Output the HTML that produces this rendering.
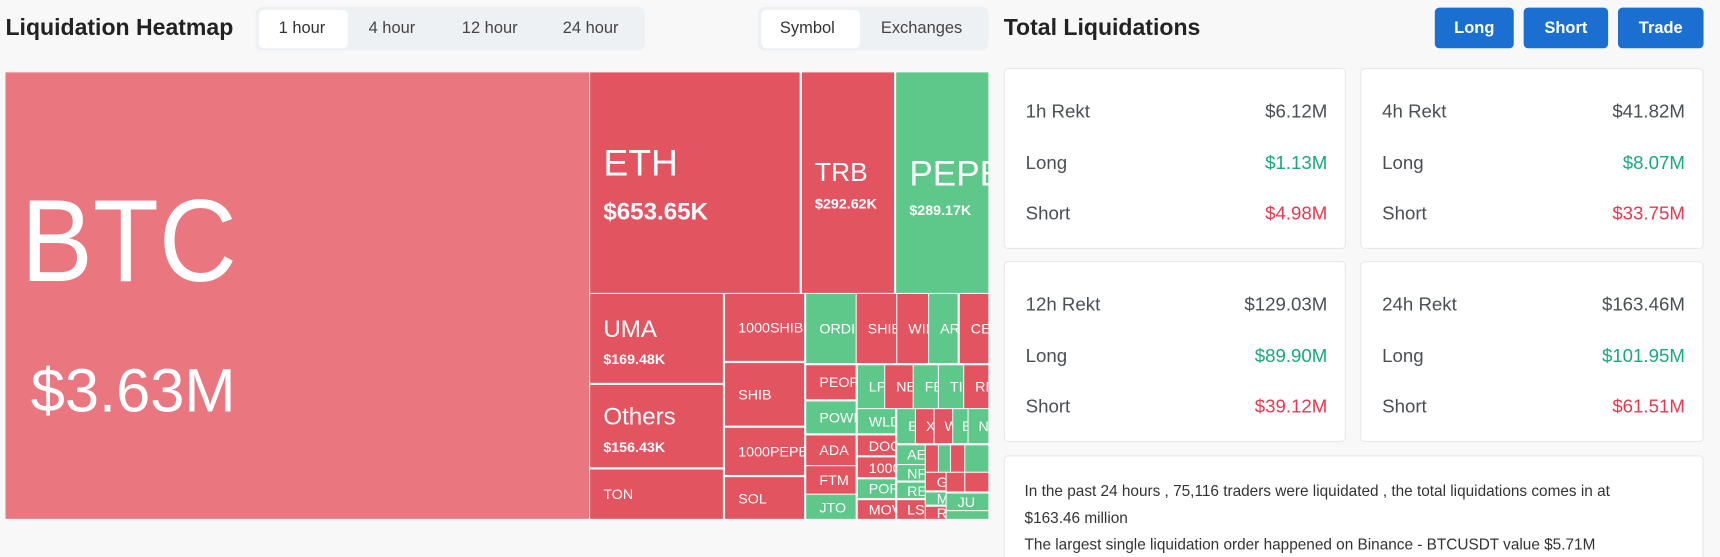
<!DOCTYPE html>
<html><head><meta charset="utf-8"><style>
html,body{margin:0;padding:0;background:#f8f8f8;}
#wrap{position:absolute;left:0;top:0;width:1568px;height:508px;transform:scale(1.09694);transform-origin:0 0;font-family:"Liberation Sans",sans-serif;overflow:hidden;}
.a{position:absolute;}
.t{position:absolute;overflow:hidden;color:#fff;box-sizing:border-box;}
.r{background:#e35461}.g{background:#5ec78a}
.s{display:flex;align-items:center;padding-left:12px;font-size:13px;white-space:nowrap}
.card{position:absolute;background:#fff;border:1px solid #e6e8ea;border-radius:4px;box-sizing:border-box;}
.row{position:absolute;left:19px;right:16px;font-size:17px;color:#4a4f55;}
.row span{position:absolute;right:0;top:0}
.gr{color:#16a97c}.rd{color:#e8384f}
.btn{position:absolute;top:7px;height:37px;background:#1a6fd1;color:#fff;border-radius:4px;font-weight:bold;font-size:15px;display:flex;align-items:center;justify-content:center;}
</style></head><body><div id="wrap">
<div class="a" style="left:5px;top:14px;font-size:21px;font-weight:bold;color:#222">Liquidation Heatmap</div>
<div class="a" style="left:233px;top:6px;width:355px;height:40px;background:#eef1f4;border-radius:6px"></div>
<div class="a" style="left:236px;top:9px;width:81px;height:35px;background:#fff;border-radius:5px"></div>
<div class="a" style="left:254px;top:17px;font-size:15px;color:#333">1 hour</div>
<div class="a" style="left:336px;top:17px;font-size:15px;color:#444">4 hour</div>
<div class="a" style="left:421px;top:17px;font-size:15px;color:#444">12 hour</div>
<div class="a" style="left:513px;top:17px;font-size:15px;color:#444">24 hour</div>
<div class="a" style="left:691px;top:6px;width:210px;height:40px;background:#eef1f4;border-radius:6px"></div>
<div class="a" style="left:694px;top:9px;width:90px;height:35px;background:#fff;border-radius:5px"></div>
<div class="a" style="left:711px;top:17px;font-size:15px;color:#333">Symbol</div>
<div class="a" style="left:803px;top:17px;font-size:15px;color:#444">Exchanges</div>
<div class="a" style="left:915px;top:14px;font-size:21px;font-weight:bold;color:#222">Total Liquidations</div>
<div class="btn" style="left:1308px;width:72px">Long</div>
<div class="btn" style="left:1389px;width:77px">Short</div>
<div class="btn" style="left:1475px;width:78px">Trade</div>

<div class="t" style="left:5px;top:66px;width:532px;height:407px;background:#ea7780">
<div class="a" style="left:14px;top:100px;font-size:107px;line-height:1;transform:scaleX(0.92);transform-origin:0 0">BTC</div>
<div class="a" style="left:23px;top:262px;font-size:56px;line-height:1">$3.63M</div></div>
<div class="t r" style="left:538px;top:66px;width:191px;height:201px">
<div class="a" style="left:12px;top:66px;font-size:34px;line-height:1">ETH</div>
<div class="a" style="left:12px;top:116px;font-size:22px;font-weight:bold;line-height:1">$653.65K</div></div>
<div class="t r" style="left:731px;top:66px;width:84px;height:201px">
<div class="a" style="left:12px;top:80px;font-size:24px;line-height:1">TRB</div>
<div class="a" style="left:12px;top:113px;font-size:13px;font-weight:bold;line-height:1">$292.62K</div></div>
<div class="t g" style="left:817px;top:66px;width:84px;height:201px">
<div class="a" style="left:12px;top:76px;font-size:32px;line-height:1">PEPE</div>
<div class="a" style="left:12px;top:119px;font-size:13px;font-weight:bold;line-height:1">$289.17K</div></div>
<div class="t r" style="left:538px;top:268px;width:121px;height:81px">
<div class="a" style="left:12px;top:21px;font-size:22px;line-height:1">UMA</div>
<div class="a" style="left:12px;top:53px;font-size:13px;font-weight:bold;line-height:1">$169.48K</div></div>
<div class="t r" style="left:538px;top:351px;width:121px;height:75px">
<div class="a" style="left:12px;top:18px;font-size:22px;line-height:1">Others</div>
<div class="a" style="left:12px;top:50px;font-size:13px;font-weight:bold;line-height:1">$156.43K</div></div>
<div class="t r s" style="left:538px;top:428px;width:121px;height:45px">TON</div>
<div class="t r s" style="left:661px;top:268px;width:72px;height:61px">1000SHIB</div>
<div class="t r s" style="left:661px;top:331px;width:72px;height:57px">SHIB</div>
<div class="t r s" style="left:661px;top:390px;width:72px;height:43px">1000PEPE</div>
<div class="t r s" style="left:661px;top:435px;width:72px;height:38px">SOL</div>
<div class="t g s" style="left:735px;top:268px;width:45px;height:63px">ORDI</div>
<div class="t r s" style="left:781px;top:268px;width:36px;height:63px;padding-left:10px">SHIB</div>
<div class="t r s" style="left:818px;top:268px;width:28px;height:63px;padding-left:10px">WIF</div>
<div class="t g s" style="left:847px;top:268px;width:26px;height:63px;padding-left:10px">ARB</div>
<div class="t r s" style="left:875px;top:268px;width:26px;height:63px;padding-left:10px">CEL</div>
<div class="t r s" style="left:735px;top:333px;width:45px;height:31px">PEOP</div>
<div class="t g s" style="left:735px;top:366px;width:45px;height:29px">POWR</div>
<div class="t r s" style="left:735px;top:397px;width:45px;height:27px">ADA</div>
<div class="t r s" style="left:735px;top:425px;width:45px;height:25px">FTM</div>
<div class="t g s" style="left:735px;top:451px;width:45px;height:22px">JTO</div>
<div class="t g s" style="left:782px;top:333px;width:24px;height:39px;padding-left:10px">LPT</div>
<div class="t r s" style="left:807px;top:333px;width:25px;height:39px;padding-left:10px">NEO</div>
<div class="t g s" style="left:833px;top:333px;width:22px;height:39px;padding-left:10px">FET</div>
<div class="t g s" style="left:856px;top:333px;width:22px;height:39px;padding-left:10px">TIA</div>
<div class="t r s" style="left:879px;top:333px;width:22px;height:39px;padding-left:10px">RN</div>
<div class="t g s" style="left:782px;top:373px;width:34px;height:22px;padding-left:10px">WLD</div>
<div class="t r s" style="left:782px;top:397px;width:34px;height:18px;padding-left:10px">DOGE</div>
<div class="t r s" style="left:782px;top:417px;width:34px;height:18px;padding-left:10px">1000</div>
<div class="t g s" style="left:782px;top:437px;width:34px;height:17px;padding-left:10px">POPC</div>
<div class="t r s" style="left:782px;top:456px;width:34px;height:17px;padding-left:10px">MOVR</div>
<div class="t g s" style="left:818px;top:373px;width:16px;height:31px;padding-left:10px">B</div>
<div class="t r s" style="left:835px;top:373px;width:16px;height:31px;padding-left:9px">X</div>
<div class="t r s" style="left:852px;top:373px;width:16px;height:31px;padding-left:9px">W</div>
<div class="t g s" style="left:869px;top:373px;width:13px;height:31px;padding-left:8px">E</div>
<div class="t g s" style="left:883px;top:373px;width:18px;height:31px;padding-left:9px">N</div>
<div class="t g s" style="left:818px;top:406px;width:25px;height:17px;padding-left:9px">AE</div>
<div class="t g s" style="left:818px;top:424px;width:25px;height:14px;padding-left:9px">NF</div>
<div class="t g s" style="left:818px;top:440px;width:25px;height:14px;padding-left:9px">RE</div>
<div class="t r s" style="left:818px;top:456px;width:25px;height:17px;padding-left:9px">LS</div>
<div class="t r" style="left:844px;top:406px;width:11px;height:24px"></div>
<div class="t g" style="left:856px;top:406px;width:10px;height:24px"></div>
<div class="t r" style="left:867px;top:406px;width:12px;height:24px"></div>
<div class="t g" style="left:880px;top:406px;width:21px;height:24px"></div>
<div class="t r s" style="left:844px;top:431px;width:18px;height:16px;padding-left:10px">GR</div>
<div class="t g s" style="left:844px;top:449px;width:18px;height:11px;padding-left:10px">ME</div>
<div class="t r s" style="left:844px;top:462px;width:18px;height:11px;padding-left:10px">RV</div>
<div class="t r" style="left:863px;top:431px;width:16px;height:17px"></div>
<div class="t r" style="left:880px;top:431px;width:21px;height:17px"></div>
<div class="t g s" style="left:863px;top:450px;width:38px;height:15px;padding-left:10px">JU</div>
<div class="t g" style="left:863px;top:466px;width:38px;height:7px"></div>

<div class="card" style="left:915px;top:62px;width:312px;height:165px">
<div class="row" style="top:29px">1h Rekt<span>$6.12M</span></div>
<div class="row" style="top:76px">Long<span class="gr">$1.13M</span></div>
<div class="row" style="top:122px">Short<span class="rd">$4.98M</span></div></div>
<div class="card" style="left:1240px;top:62px;width:313px;height:165px">
<div class="row" style="top:29px">4h Rekt<span>$41.82M</span></div>
<div class="row" style="top:76px">Long<span class="gr">$8.07M</span></div>
<div class="row" style="top:122px">Short<span class="rd">$33.75M</span></div></div>
<div class="card" style="left:915px;top:238px;width:312px;height:165px">
<div class="row" style="top:29px">12h Rekt<span>$129.03M</span></div>
<div class="row" style="top:76px">Long<span class="gr">$89.90M</span></div>
<div class="row" style="top:122px">Short<span class="rd">$39.12M</span></div></div>
<div class="card" style="left:1240px;top:238px;width:313px;height:165px">
<div class="row" style="top:29px">24h Rekt<span>$163.46M</span></div>
<div class="row" style="top:76px">Long<span class="gr">$101.95M</span></div>
<div class="row" style="top:122px">Short<span class="rd">$61.51M</span></div></div>
<div class="card" style="left:915px;top:415px;width:638px;height:110px">
<div class="a" style="left:18px;top:19px;font-size:14px;line-height:24.5px;color:#333;width:600px">In the past 24 hours , 75,116 traders were liquidated , the total liquidations comes in at<br>$163.46 million<br>The largest single liquidation order happened on Binance - BTCUSDT value $5.71M</div></div>
</div></body></html>
